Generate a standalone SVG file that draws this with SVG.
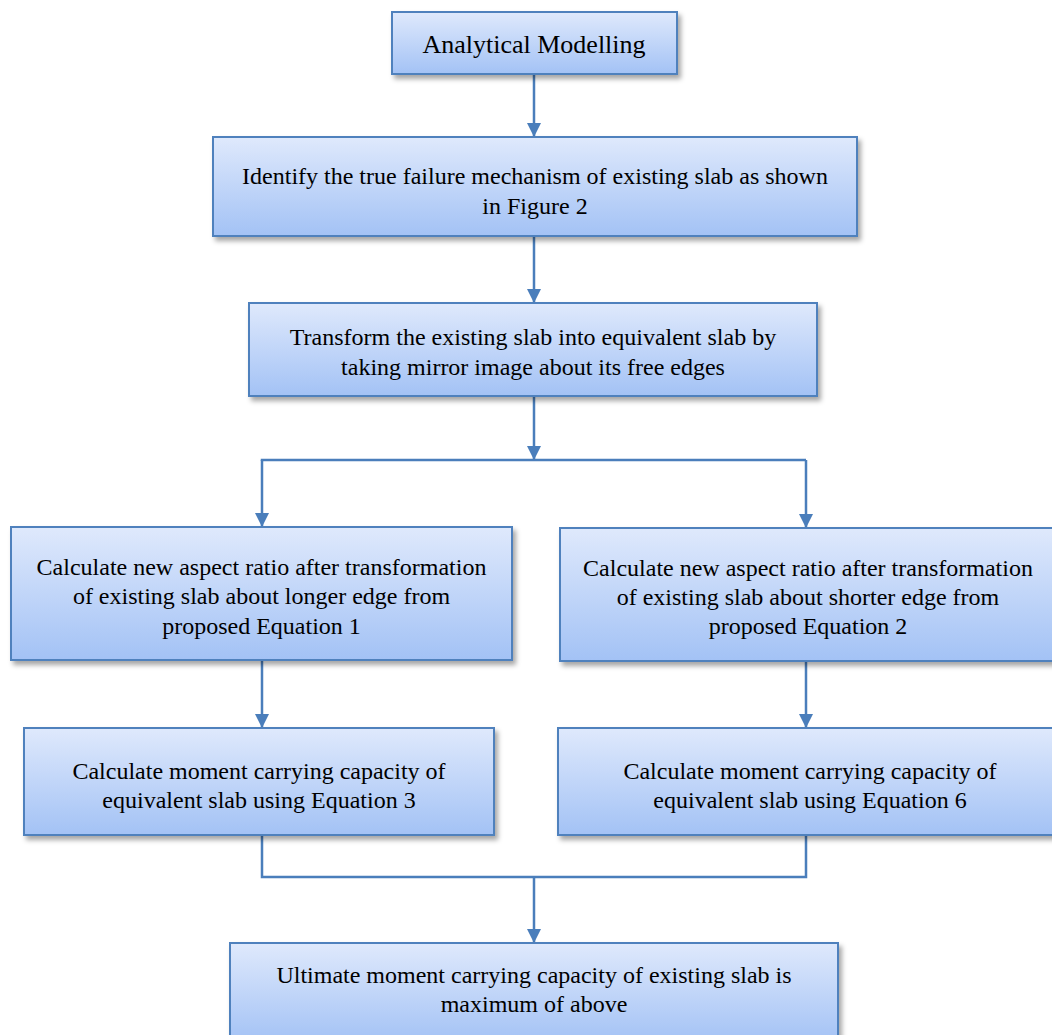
<svg xmlns="http://www.w3.org/2000/svg" width="1052" height="1035" viewBox="0 0 1052 1035">
  <style>
    .box { fill: url(#g); stroke: #4f81bd; stroke-width: 2; filter: url(#sh); }
    .t { font-family: "Liberation Serif", "Times New Roman", serif; font-size: 24px; fill: #000; text-anchor: middle; }
    .c { fill: none; stroke: #4a7ebb; stroke-width: 2.5; }
  </style>
  <defs>
    <linearGradient id="g" x1="0" y1="0" x2="0" y2="1">
      <stop offset="0" stop-color="#dfe9fc"/>
      <stop offset="1" stop-color="#a3c2f5"/>
    </linearGradient>
    <filter id="sh" x="-5%" y="-5%" width="115%" height="125%">
      <feDropShadow dx="3" dy="4" stdDeviation="2.5" flood-color="#000" flood-opacity="0.35"/>
    </filter>
    <marker id="ah" viewBox="0 0 14 14" refX="14" refY="7" markerWidth="14" markerHeight="14" markerUnits="userSpaceOnUse" orient="auto">
      <path d="M0,0 L14,7 L0,14 Z" fill="#4a7ebb"/>
    </marker>
  </defs>
  <rect width="1052" height="1035" fill="#fff"/>

  <g id="connectors">
    <line class="c" x1="534" y1="74" x2="534" y2="137" marker-end="url(#ah)"/>
    <line class="c" x1="534" y1="236" x2="534" y2="303" marker-end="url(#ah)"/>
    <line class="c" x1="534" y1="396" x2="534" y2="460" marker-end="url(#ah)"/>
    <polyline class="c" points="262,461 262,460 806,460"/>
    <line class="c" x1="262" y1="460" x2="262" y2="527" marker-end="url(#ah)"/>
    <line class="c" x1="806" y1="460" x2="806" y2="528" marker-end="url(#ah)"/>
    <line class="c" x1="262" y1="660" x2="262" y2="728" marker-end="url(#ah)"/>
    <line class="c" x1="806" y1="661" x2="806" y2="728" marker-end="url(#ah)"/>
    <polyline class="c" points="262,835 262,877 806,877 806,835"/>
    <line class="c" x1="534" y1="877" x2="534" y2="943" marker-end="url(#ah)"/>
  </g>

  <g id="n1">
    <rect class="box" x="392" y="12" width="285" height="62"/>
    <text class="t" x="534" y="53" style="font-size:26px">Analytical Modelling</text>
  </g>
  <g id="n2">
    <rect class="box" x="213" y="137" width="644" height="99"/>
    <text class="t" x="535" y="184">Identify the true failure mechanism of existing slab as shown</text>
    <text class="t" x="535" y="214">in Figure 2</text>
  </g>
  <g id="n3">
    <rect class="box" x="249" y="303" width="568" height="93"/>
    <text class="t" x="533" y="345">Transform the existing slab into equivalent slab by</text>
    <text class="t" x="533" y="375">taking mirror image about its free edges</text>
  </g>
  <g id="n4">
    <rect class="box" x="11" y="527" width="501" height="133"/>
    <text class="t" x="261.5" y="575">Calculate new aspect ratio after transformation</text>
    <text class="t" x="261.5" y="604">of existing slab about longer edge from</text>
    <text class="t" x="261.5" y="634">proposed Equation 1</text>
  </g>
  <g id="n5">
    <rect class="box" x="560" y="528" width="496" height="133"/>
    <text class="t" x="808" y="576">Calculate new aspect ratio after transformation</text>
    <text class="t" x="808" y="605">of existing slab about shorter edge from</text>
    <text class="t" x="808" y="634">proposed Equation 2</text>
  </g>
  <g id="n6">
    <rect class="box" x="24" y="728" width="470" height="107"/>
    <text class="t" x="259" y="779">Calculate moment carrying capacity of</text>
    <text class="t" x="259" y="808">equivalent slab using Equation 3</text>
  </g>
  <g id="n7">
    <rect class="box" x="558" y="728" width="504" height="107"/>
    <text class="t" x="810" y="779">Calculate moment carrying capacity of</text>
    <text class="t" x="810" y="808">equivalent slab using Equation 6</text>
  </g>
  <g id="n8">
    <rect class="box" x="230" y="943" width="608" height="100"/>
    <text class="t" x="534" y="983">Ultimate moment carrying capacity of existing slab is</text>
    <text class="t" x="534" y="1012">maximum of above</text>
  </g>
</svg>
